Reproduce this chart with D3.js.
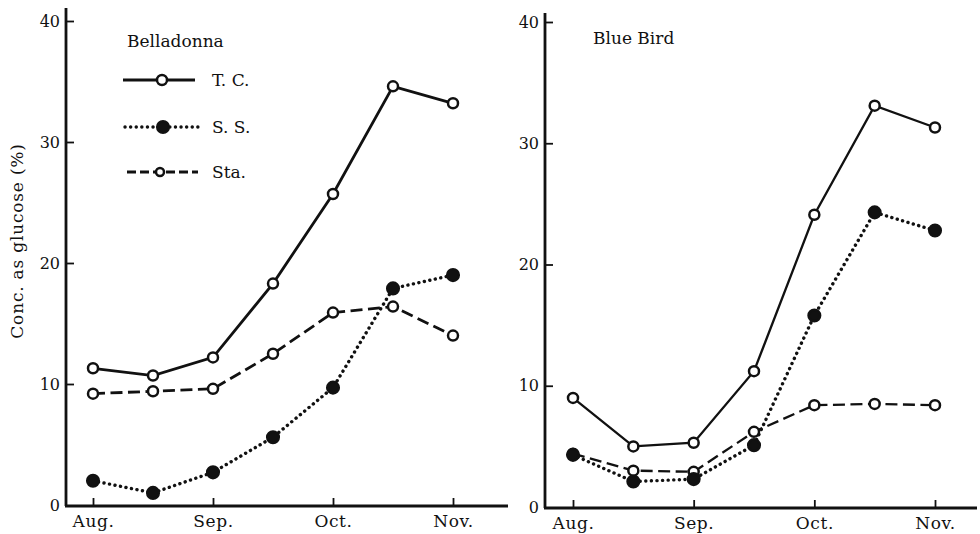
<!DOCTYPE html>
<html>
<head>
<meta charset="utf-8">
<script src="https://cdn.jsdelivr.net/npm/d3@7"></script>
<style>
  body { margin: 0; background: #fff; }
  svg text { font-family: "DejaVu Serif", "Liberation Serif", serif; fill: #111; }
</style>
</head>
<body>
<div id="plotdiv"></div>
<script>
// Month labels on the x axis and sampling points (half-month steps)
var months = ["Aug.", "Sep.", "Oct.", "Nov."];
var monthIdx = [0, 2, 4, 6];
var sampleIdx = [0, 1, 2, 3, 4, 5, 6];
var yTicks = [0, 10, 20, 30, 40];

// Belladonna
var bellaTC  = [11.3, 10.7, 12.2, 18.3, 25.7, 34.6, 33.2];
var bellaSS  = [2.0, 1.0, 2.7, 5.6, 9.7, 17.9, 19.0];
var bellaSta = [9.2, 9.4, 9.6, 12.5, 15.9, 16.4, 14.0];

// Blue Bird
var blueTC  = [9.0, 5.0, 5.3, 11.2, 24.1, 33.1, 31.3];
var blueSS  = [4.3, 2.1, 2.3, 5.1, 15.8, 24.3, 22.8];
var blueSta = [4.4, 3.0, 2.9, 6.2, 8.4, 8.5, 8.4];

var seriesNames = ["T. C.", "S. S.", "Sta."];

var width = 980, height = 534;

var vis = d3.select("#plotdiv").append("svg")
  .attr("width", width)
  .attr("height", height);

// line styles for each series
var styles = {
  "T. C.": { dash: null, fill: "#fff", r: 5 },
  "S. S.": { dash: "0.1,5.5", fill: "#111", r: 5.8 },
  "Sta.":  { dash: "12,5.5", fill: "#fff", r: 5 }
};

// panel geometry
var panels = [
  { name: "Belladonna", axisX: 66, axisTop: 8, axisEnd: 508, zeroY: 505, topY: 21,
    x0: 93, x1: 453, lw: 2.8, titleX: 127, titleY: 47,
    series: [bellaTC, bellaSS, bellaSta], legend: true },
  { name: "Blue Bird", axisX: 545, axisTop: 13, axisEnd: 977, zeroY: 507, topY: 22,
    x0: 573, x1: 935, lw: 2.3, titleX: 593, titleY: 44,
    series: [blueTC, blueSS, blueSta], legend: false }
];

panels.forEach(function(p) {
  var g = vis.append("g");

  var xScale = d3.scaleLinear().domain([0, 6]).range([p.x0, p.x1]);
  var yScale = d3.scaleLinear().domain([0, 40]).range([p.zeroY, p.topY]);

  // axis lines
  g.append("line")
    .attr("x1", p.axisX).attr("x2", p.axisX)
    .attr("y1", p.axisTop).attr("y2", p.zeroY + 1)
    .attr("stroke", "#111").attr("stroke-width", 2.8);
  g.append("line")
    .attr("x1", p.axisX - 1).attr("x2", p.axisEnd)
    .attr("y1", p.zeroY + 1).attr("y2", p.zeroY + 1)
    .attr("stroke", "#111").attr("stroke-width", 2.8);

  // y axis: ticks point inward
  var axisY = d3.axisLeft(yScale)
    .tickValues(yTicks)
    .tickSizeInner(-8)
    .tickSizeOuter(0)
    .tickPadding(6);
  var gy = g.append("g")
    .attr("transform", "translate(" + p.axisX + ",0)")
    .call(axisY);
  gy.select(".domain").remove();
  gy.selectAll(".tick line").attr("stroke", "#111").attr("stroke-width", 1.8);
  gy.selectAll(".tick text")
    .attr("font-size", 16)
    .attr("font-family", "DejaVu Serif, serif")
    .attr("fill", "#111");
  gy.selectAll(".tick").filter(function(d) { return d === 0; })
    .select("line").remove();

  // x axis: ticks point upward
  var axisX = d3.axisBottom(xScale)
    .tickValues(monthIdx)
    .tickFormat(function(d, i) { return months[i]; })
    .tickSizeInner(-8)
    .tickSizeOuter(0)
    .tickPadding(9);
  var gx = g.append("g")
    .attr("transform", "translate(0," + (p.zeroY + 1) + ")")
    .call(axisX);
  gx.select(".domain").remove();
  gx.selectAll(".tick line").attr("stroke", "#111").attr("stroke-width", 1.8);
  gx.selectAll(".tick text")
    .attr("font-size", 17)
    .attr("letter-spacing", 0.6)
    .attr("font-family", "DejaVu Serif, serif")
    .attr("fill", "#111");

  // panel title
  g.append("text")
    .attr("x", p.titleX).attr("y", p.titleY)
    .attr("font-size", 17)
    .text(p.name);

  var line = d3.line()
    .x(function(d, i) { return xScale(sampleIdx[i]); })
    .y(function(d) { return yScale(d); });

  // draw in order: Sta, S.S., T.C. so solid line is on top
  [2, 1, 0].forEach(function(k) {
    var st = styles[seriesNames[k]];
    var vals = p.series[k];
    g.append("path")
      .datum(vals)
      .attr("d", line)
      .attr("fill", "none")
      .attr("stroke", "#111")
      .attr("stroke-width", k === 1 ? 3.4 : p.lw)
      .attr("stroke-linecap", k === 1 ? "round" : "butt")
      .attr("stroke-dasharray", st.dash);
    g.selectAll(".pt" + k).data(vals).enter().append("circle")
      .attr("class", "pt" + k)
      .attr("cx", function(d, i) { return xScale(sampleIdx[i]); })
      .attr("cy", function(d) { return yScale(d); })
      .attr("r", st.r)
      .attr("fill", st.fill)
      .attr("stroke", "#111")
      .attr("stroke-width", 2.5);
  });

  if (p.legend) {
    var legY = [80, 127, 172];
    var legX = [[123, 195, 162], [125, 198, 163], [127, 198, 160]];
    seriesNames.forEach(function(name, k) {
      var st = styles[name];
      g.append("line")
        .attr("x1", legX[k][0]).attr("x2", legX[k][1])
        .attr("y1", legY[k]).attr("y2", legY[k])
        .attr("stroke", "#111")
        .attr("stroke-width", k === 1 ? 3.4 : 2.8)
        .attr("stroke-linecap", k === 1 ? "round" : "butt")
        .attr("stroke-dasharray", k === 2 ? "9,4" : st.dash);
      g.append("circle")
        .attr("cx", legX[k][2]).attr("cy", legY[k])
        .attr("r", k === 2 ? 4 : st.r)
        .attr("fill", st.fill)
        .attr("stroke", "#111")
        .attr("stroke-width", 2.5);
      g.append("text")
        .attr("x", 212).attr("y", legY[k] + 6)
        .attr("font-size", 17)
        .text(name);
    });
  }
});

// y axis title
vis.append("text")
  .attr("transform", "translate(23,241) rotate(-90)")
  .attr("text-anchor", "middle")
  .attr("font-size", 17)
  .attr("letter-spacing", 0.8)
  .text("Conc. as glucose (%)");
</script>
</body>
</html>
